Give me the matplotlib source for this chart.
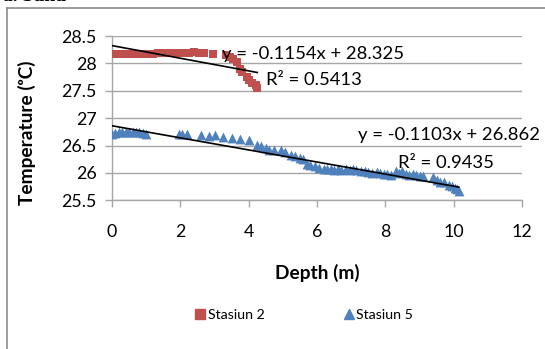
import matplotlib
matplotlib.use('Agg')
import matplotlib.pyplot as plt
from matplotlib.lines import Line2D

plt.rcParams['font.family'] = ['Lato', 'DejaVu Sans']

# Stasiun 2 (kotak merah)
depth_st2 = [0.0, 0.15, 0.3, 0.45, 0.6, 0.75, 0.9, 1.05, 1.2, 1.35, 1.5, 1.65, 1.8,
             1.95, 2.1, 2.25, 2.4, 2.55, 2.7, 2.95, 3.35, 3.45, 3.55, 3.65, 3.75,
             3.8, 3.95, 4.0, 4.1, 4.2, 4.25]
temp_st2 = [28.17, 28.17, 28.17, 28.17, 28.18, 28.18, 28.18, 28.18, 28.18, 28.19,
            28.19, 28.19, 28.19, 28.19, 28.19, 28.19, 28.2, 28.19, 28.19, 28.17,
            28.15, 28.12, 28.08, 28.02, 27.9, 27.85, 27.75, 27.7, 27.65, 27.6, 27.56]

# Stasiun 5 (segitiga biru)
depth_st5 = [0.0, 0.1, 0.2, 0.3, 0.4, 0.5, 0.6, 0.7, 0.8, 0.9, 1.0,
             1.95, 2.05, 2.2, 2.6, 2.85, 3.0, 3.25, 3.5, 3.75, 4.0, 4.25, 4.35,
             4.5, 4.6, 4.75, 4.95, 5.05, 5.25, 5.35, 5.5, 5.6, 5.7, 5.8, 5.95,
             6.05, 6.2, 6.3, 6.4, 6.5, 6.6, 6.7, 6.85, 6.95, 7.05, 7.15, 7.3,
             7.4, 7.5, 7.6, 7.75, 7.85, 7.95, 8.05, 8.15, 8.3, 8.4, 8.5, 8.6,
             8.7, 8.8, 8.9, 9.0, 9.1, 9.4, 9.5, 9.6, 9.7, 9.85, 9.95, 10.05,
             10.1, 10.15]
temp_st5 = [26.72, 26.73, 26.74, 26.75, 26.74, 26.75, 26.74, 26.75, 26.74, 26.73, 26.72,
            26.72, 26.71, 26.72, 26.69, 26.68, 26.69, 26.65, 26.63, 26.62, 26.6, 26.52, 26.5,
            26.45, 26.42, 26.42, 26.42, 26.38, 26.32, 26.31, 26.28, 26.25, 26.17, 26.14, 26.12,
            26.1, 26.08, 26.08, 26.07, 26.06, 26.07, 26.05, 26.07, 26.05, 26.08, 26.05, 26.04,
            26.04, 26.02, 26.0, 26.02, 26.0, 25.98, 25.98, 25.97, 26.03, 26.0, 26.04, 25.98,
            25.97, 25.99, 25.96, 25.95, 25.95, 25.93, 25.88, 25.84, 25.83, 25.78, 25.76, 25.72,
            25.7, 25.68]

# garis tren linear (dari label persamaan)
slope_st2, intercept_st2, r2_st2 = -0.1154, 28.325, 0.5413
slope_st5, intercept_st5, r2_st5 = -0.1103, 26.862, 0.9435

x_ticks = [0, 2, 4, 6, 8, 10, 12]
y_ticks = [25.5, 26, 26.5, 27, 27.5, 28, 28.5]

RED = '#C0504D'
BLUE = '#4F81BD'
GRID = '#A6A6A6'

fig = plt.figure(figsize=(5.45, 3.49), dpi=100)
ax = fig.add_axes([0.2055, 0.4258, 0.7525, 0.4710])

ax.scatter(depth_st2, temp_st2, marker='s', s=36, color=RED, linewidths=0, zorder=3)
ax.scatter(depth_st5, temp_st5, marker='^', s=50, color=BLUE, linewidths=0, zorder=3)

x2 = [0, max(depth_st2)]
ax.plot(x2, [intercept_st2 + slope_st2 * v for v in x2], color='black', lw=1.2, zorder=4)
x5 = [0, max(depth_st5)]
ax.plot(x5, [intercept_st5 + slope_st5 * v for v in x5], color='black', lw=1.2, zorder=4)

eq_fs = 13.3
ax.text(3.21, 28.18, f'y = {slope_st2}x + {intercept_st2}', fontsize=eq_fs,
        va='center', ha='left', zorder=5)
ax.text(4.5, 27.69, f'R² = {r2_st2}', fontsize=eq_fs, va='center', ha='left', zorder=5)
ax.text(7.2, 26.70, f'y = {slope_st5}x + {intercept_st5}', fontsize=eq_fs,
        va='center', ha='left', zorder=5)
ax.text(8.37, 26.18, f'R² = {r2_st5}', fontsize=eq_fs, va='center', ha='left', zorder=5)

ax.set_xlim(0, 12)
ax.set_ylim(25.5, 28.5)
ax.set_xticks(x_ticks)
ax.set_yticks(y_ticks)
ax.set_yticklabels(['25.5', '26', '26.5', '27', '27.5', '28', '28.5'])
ax.tick_params(axis='both', labelsize=12.8, direction='out', length=5, color=GRID, width=1)
ax.tick_params(axis='x', pad=12)
ax.tick_params(axis='y', pad=6)
ax.grid(axis='y', color=GRID, lw=1)
ax.set_axisbelow(True)
for side in ['top', 'right']:
    ax.spines[side].set_visible(False)
for side in ['left', 'bottom']:
    ax.spines[side].set_color(GRID)
    ax.spines[side].set_linewidth(1)

ax.set_xlabel('Depth (m)', fontsize=13.8, fontweight='bold')
ax.set_ylabel('Temperature (ᵒC)', fontsize=13.8, fontweight='bold')
ax.xaxis.set_label_coords(0.5, -0.385)
ax.yaxis.set_label_coords(-0.185, 0.41)

handles = [Line2D([], [], marker='s', ls='none', color=RED, markersize=6.5),
           Line2D([], [], marker='^', ls='none', color=BLUE, markersize=7)]
fig.legend(handles, ['Stasiun 2', 'Stasiun 5'], loc='center', ncol=2,
           bbox_to_anchor=(0.558, 0.097), frameon=False, fontsize=10.2,
           handlelength=0.7, handletextpad=0.2, columnspacing=5.6)

# bingkai grafik
fig.add_artist(Line2D([7 / 545, 7 / 545], [0, 1 - 8 / 349], color='#8C8C8C', lw=1.2,
                      transform=fig.transFigure))
fig.add_artist(Line2D([7 / 545, 1], [1 - 8 / 349, 1 - 8 / 349], color='#8C8C8C', lw=1.2,
                      transform=fig.transFigure))
fig.text(0.005, 1 - 1 / 349, 'a. Suhu', fontsize=14, fontweight='bold',
         family='Liberation Serif', va='baseline', ha='left')

fig.savefig('out.png', dpi=100)
